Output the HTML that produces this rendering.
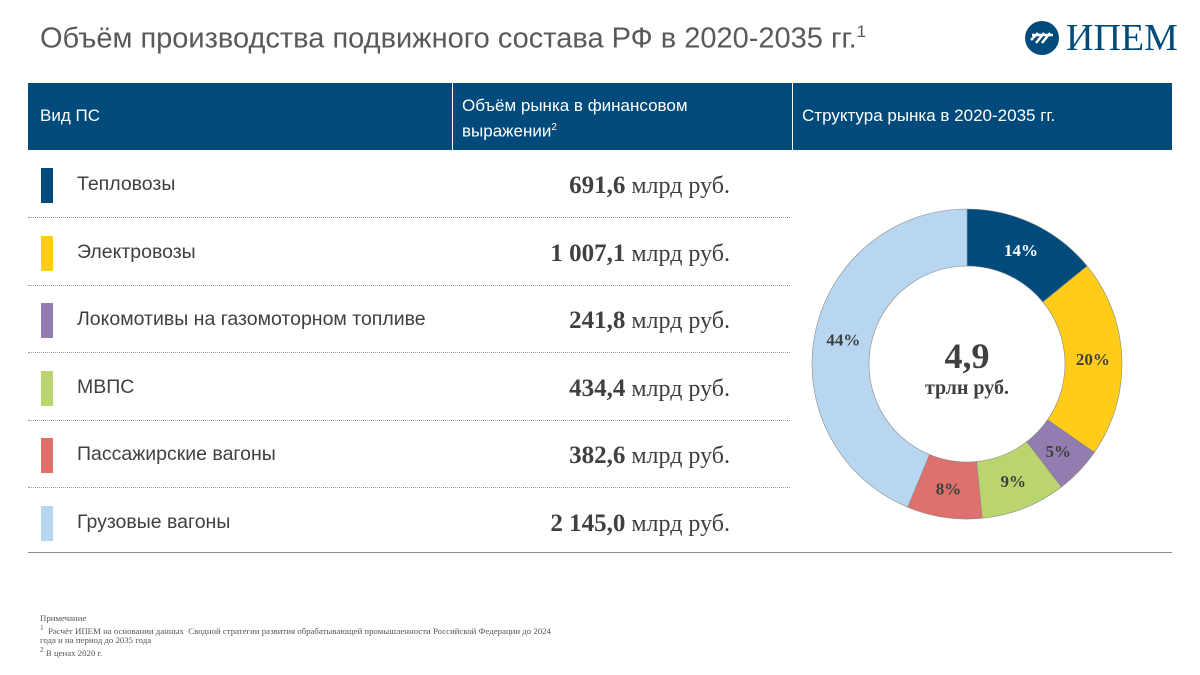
<!DOCTYPE html>
<html><head><meta charset="utf-8"><style>
body{margin:0;width:1200px;height:675px;background:#fff;position:relative;overflow:hidden;font-family:"Liberation Sans","Noto Sans CJK SC",sans-serif;}
.abs{position:absolute}
.title{left:40px;top:22px;font-size:29px;color:#595959;}
.hdr{left:28px;top:83px;width:1144px;height:67px;background:#004B7C;}
.hc{position:absolute;color:#fff;font-size:17px;line-height:22px;}
.sep{position:absolute;top:0;width:1px;height:67px;background:#fff}
.row{position:absolute;left:28px;width:762px;height:67px;}
.sw{position:absolute;left:13px;width:12px;height:35px;}
.nm{position:absolute;left:49px;font-size:19.5px;color:#404040;}
.val{position:absolute;right:60px;font-family:"Liberation Serif",serif;font-size:24px;color:#404040;}
.val b{font-size:25px}
.line{position:absolute;left:28px;width:762px;border-top:1px dotted #9a9a9a;}
.note{left:40px;top:614px;font-family:"Liberation Serif",serif;font-size:8.8px;line-height:9px;color:#555;}
</style></head><body>
<div class="abs title">Объём производства подвижного состава РФ в 2020-2035 гг.<sup style="font-size:17px">1</sup></div>
<div class="abs" style="left:1022px;top:18px;width:160px;height:40px;">
 <svg width="40" height="40" style="position:absolute;left:0;top:0"><circle cx="20" cy="20" r="17" fill="#004B7C"/><path d="M9 22 L16 15 M14 25 L22 15 M20 25 L28 15 M10 17 H31" stroke="#fff" stroke-width="2.5" fill="none"/></svg>
 <span style="position:absolute;left:44px;top:-2px;font-family:'Liberation Serif',serif;font-size:38px;color:#004B7C;">ИПЕМ</span>
</div>
<div class="abs hdr">
 <div class="hc" style="left:12px;top:22px">Вид ПС</div>
 <div class="sep" style="left:424px"></div>
 <div class="hc" style="left:434px;top:12px">Объём рынка в финансовом<br>выражении<sup style="font-size:10px">2</sup></div>
 <div class="sep" style="left:764px"></div>
 <div class="hc" style="left:774px;top:22px">Структура рынка в 2020-2035 гг.</div>
</div>
<div id="rows"></div>
<div class="abs" style="left:28px;top:552px;width:1144px;border-top:1px solid #8c8c8c"></div>
<svg id="donut" class="abs" style="left:0;top:0" width="1200" height="675"></svg>
<div class="abs note">Примечание<br><sup>1</sup>&nbsp; Расчёт ИПЕМ на основании данных&nbsp; Сводной стратегии развития обрабатывающей промышленности Российской Федерации до 2024<br>года и на период до 2035 года<br><sup>2</sup> В ценах 2020 г.</div>
<script>
const categories=["Тепловозы","Электровозы","Локомотивы на газомоторном топливе","МВПС","Пассажирские вагоны","Грузовые вагоны"];
const values=[691.6,1007.1,241.8,434.4,382.6,2145.0];
const valueLabels=["691,6","1 007,1","241,8","434,4","382,6","2 145,0"];
const pctLabels=["14%","20%","5%","9%","8%","44%"];
const colors=["#004B7C","#FFCC1A","#927CB0","#BAD46E","#DE706D","#B8D6F0"];
const rows=document.getElementById('rows');
categories.forEach((c,i)=>{
 const top=152+i*67.5;
 const r=document.createElement('div');r.className='row';r.style.top=top+'px';
 
 
 r.innerHTML='<div class="sw" style="top:16px;background:'+colors[i]+'"></div><div class="nm" style="top:21px">'+c+'</div><div class="val" style="top:20px"><b>'+valueLabels[i]+'</b> млрд руб.</div>';
 rows.appendChild(r);
 if(i<5){const l=document.createElement('div');l.className='line';l.style.top=(top+65)+'px';
 
 
 rows.appendChild(l);}
});
const svg=document.getElementById('donut');const NS='http://www.w3.org/2000/svg';
const cx=967,cy=364,R=155,r0=98;const total=values.reduce((a,b)=>a+b,0);
let a=0;
function pt(rad,ang){return [cx+rad*Math.sin(ang),cy-rad*Math.cos(ang)];}
values.forEach((v,i)=>{
 const a1=a+v/total*2*Math.PI;
 const [x1,y1]=pt(R,a),[x2,y2]=pt(R,a1),[x3,y3]=pt(r0,a1),[x4,y4]=pt(r0,a);
 const lg=(a1-a)>Math.PI?1:0;
 const p=document.createElementNS(NS,'path');
 p.setAttribute('d',`M${x1},${y1}A${R},${R} 0 ${lg} 1 ${x2},${y2}L${x3},${y3}A${r0},${r0} 0 ${lg} 0 ${x4},${y4}Z`);
 p.setAttribute('fill',colors[i]);p.setAttribute('stroke','#8a8a8a');p.setAttribute('stroke-width','0.6');
 
 
 svg.appendChild(p);
 const [lx,ly]=pt(126,(a+a1)/2);
 const t=document.createElementNS(NS,'text');
 t.setAttribute('x',lx);t.setAttribute('y',ly+6);t.setAttribute('text-anchor','middle');
 t.setAttribute('font-family','Liberation Serif, serif');t.setAttribute('font-weight','bold');t.setAttribute('font-size','17');
 t.setAttribute('fill',i==0?'#fff':'#404040');t.textContent=pctLabels[i];
 
 
 svg.appendChild(t);
 a=a1;
});
const t1=document.createElementNS(NS,'text');t1.setAttribute('x',cx);t1.setAttribute('y',368);t1.setAttribute('text-anchor','middle');
t1.setAttribute('font-family','Liberation Serif, serif');t1.setAttribute('font-weight','bold');t1.setAttribute('font-size','36');t1.setAttribute('fill','#404040');t1.textContent='4,9';


svg.appendChild(t1);
const t2=document.createElementNS(NS,'text');t2.setAttribute('x',cx);t2.setAttribute('y',394);t2.setAttribute('text-anchor','middle');
t2.setAttribute('font-family','Liberation Serif, serif');t2.setAttribute('font-weight','bold');t2.setAttribute('font-size','20');t2.setAttribute('fill','#404040');t2.textContent='трлн руб.';


svg.appendChild(t2);
</script>
</body></html>
